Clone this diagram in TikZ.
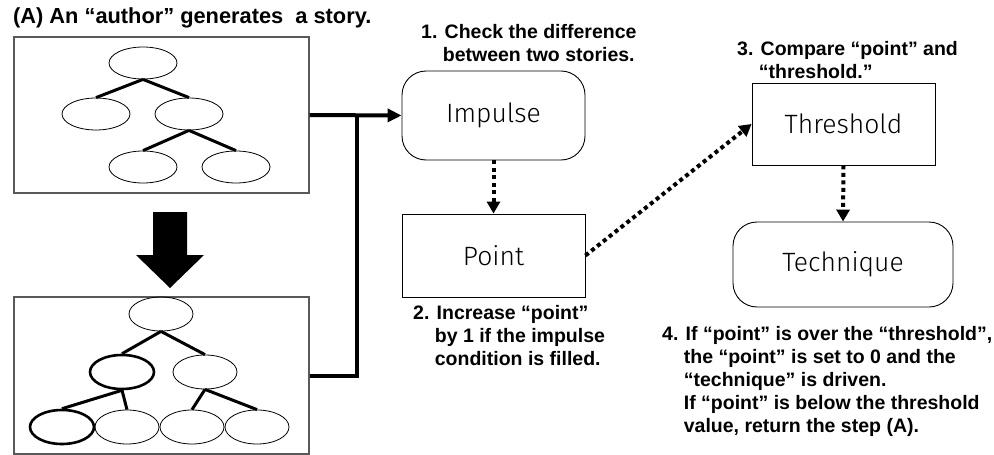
\documentclass[tikz,border=0pt]{standalone}
\usepackage{fontspec}
\setmainfont{Liberation Sans}
\IfFontExistsTF{Fira Sans Light}
  {\newfontfamily\boxfont{Fira Sans Light}}
  {\newfontfamily\boxfont{Liberation Sans}}
\usetikzlibrary{arrows.meta,shapes.geometric}
\begin{document}
\begin{tikzpicture}[x=1pt,y=-1pt,
  treebox/.style={draw=black!65,line width=1.2pt,inner sep=0pt,
    minimum width=295pt,minimum height=156pt},
  leaf/.style={draw,ellipse,line width=0.8pt,inner sep=0pt,
    minimum width=68pt,minimum height=32pt},
  leafb/.style={leaf,minimum width=64pt,minimum height=34pt},
  hot/.style={line width=2.6pt},
  branch/.style={line width=3pt},
  stepbox/.style={draw,line width=0.9pt,inner sep=0pt,
    minimum width=183pt,font=\boxfont\fontsize{26.5}{26.5}\selectfont},
  roundbox/.style={stepbox,rounded corners=24pt},
  note/.style={anchor=north west,inner sep=0pt,align=left,
    font=\bfseries\fontsize{19.5}{23}\selectfont},
  flow/.style={line width=4pt,-{Triangle[width=13pt,length=14pt]}},
  feed/.style={line width=4pt},
  dotflow/.style={line width=4pt,dash pattern=on 4pt off 3.5pt,
    -{Triangle[width=13pt,length=12pt]}}
]
\useasboundingbox (0,0) rectangle (994,455);

% title
\node[note,font=\bfseries\fontsize{21.8}{23}\selectfont] (title) at (13,8)
  {(A) An “author” generates\ \ a story.};

% upper story tree
\node[treebox] (tb) at (161.5,115) {};
\node[leaf] (t1) at (143,63) {};
\node[leaf] (t2) at (96,114) {};
\node[leaf] (t3) at (189,114) {};
\node[leaf] (t4) at (143,167) {};
\node[leaf] (t5) at (236,167) {};
\draw[branch] (t1.south) -- (t2.north);
\draw[branch] (t1.south) -- (t3.north);
\draw[branch] (t3.south) -- (t4.north);
\draw[branch] (t3.south) -- (t5.north);

% big arrow between the two trees
\fill (153,212) -- (187,212) -- (187,255) -- (204,255) -- (170,288)
  -- (136,255) -- (153,255) -- cycle;

% lower story tree
\node[treebox,minimum height=157pt] (bb) at (161.5,375.5) {};
\node[leafb] (b1) at (161,314) {};
\node[leafb,hot] (b2) at (122,372) {};
\node[leafb] (b3) at (205,372) {};
\node[leafb,hot] (b4) at (62,427) {};
\node[leafb] (b5) at (127,427) {};
\node[leafb] (b6) at (192,427) {};
\node[leafb] (b7) at (257,427) {};
\draw[branch] (b1.south) -- (b2.north);
\draw[branch] (b1.south) -- (b3.north);
\draw[branch] (b2.south) -- (b4.north);
\draw[branch] (b2.south) -- (b5.north);
\draw[branch] (b3.south) -- (b6.north);
\draw[branch] (b3.south) -- (b7.north);

% process boxes
\node[roundbox,minimum height=89pt] (imp) at (493.5,115.5) {Impulse};
\node[stepbox,minimum height=83pt] (pt) at (493.5,255.5) {Point};
\node[stepbox,minimum height=82pt] (thr) at (843.5,124) {Threshold};
\node[roundbox,minimum width=220pt,minimum height=85pt] (tech) at (843,264.5) {Technique};

% connectors
\coordinate (join) at (357,115);
\draw[flow] (tb.east) -- (imp.west);
\draw[feed] (bb.east) -| (join);
\draw[dotflow] (imp.south) -- (pt.north);
\draw[dotflow] (pt.east) -- (thr.west);
\draw[dotflow] (thr.south) -- (tech.north);

% step notes
\node[note] (n1) at (421,24)
  {1. Check the difference\\\phantom{1.\ }between two stories.};
\node[note] (n2) at (413,305)
  {2. Increase “point”\\\phantom{2.\ }by 1 if the impulse\\\phantom{2.\ }condition is filled.};
\node[note] (n3) at (737,41)
  {3. Compare “point” and\\\phantom{3.\ }“threshold.”};
\node[note] (n4) at (662,326)
  {4. If “point” is over the “threshold”,\\\phantom{4.\ }the “point” is set to 0 and the\\\phantom{4.\ }“technique” is driven.\\\phantom{4.\ }If “point” is below the threshold\\\phantom{4.\ }value, return the step (A).};
\end{tikzpicture}
\end{document}
